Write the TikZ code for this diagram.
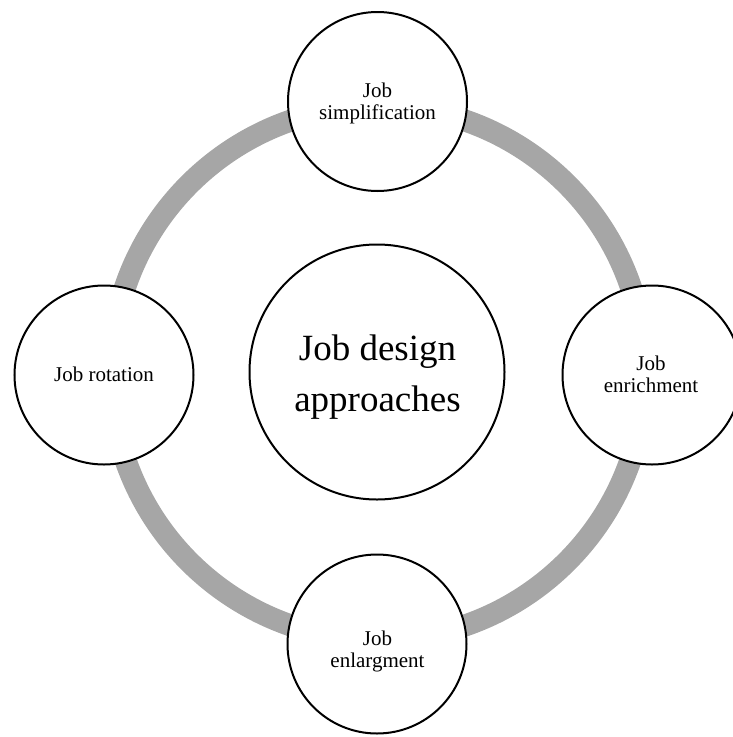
\documentclass[tikz,border=0pt]{standalone}
\usepackage{fontspec}
\setmainfont{Liberation Serif}
\definecolor{ringgray}{HTML}{A6A6A6}
\begin{document}
\begin{tikzpicture}[x=1pt,y=-1pt,
  bubble/.style={circle,draw=black,line width=2pt,fill=white,inner sep=0pt,minimum size=179pt},
  hub/.style={circle,draw=black,line width=2pt,fill=white,inner sep=0pt,minimum size=255pt},
  lbl/.style={anchor=base,inner sep=0pt,font=\fontsize{21}{25}\selectfont},
  biglbl/.style={anchor=base,inner sep=0pt,font=\fontsize{37}{44}\selectfont},
  ring/.style={draw=ringgray,line width=22pt}]
\useasboundingbox (0,0) rectangle (733,737);
\clip (0,0) rectangle (733,737);
\coordinate (o) at (378,373);
\draw[ring] (o) circle[radius=267];
\node[hub] (hub) at (377,372) {};
\node[bubble] (top) at (377.5,101.5) {};
\node[bubble] (right) at (652,375) {};
\node[bubble] (bottom) at (377,644) {};
\node[bubble] (left) at (104,375) {};
\node[biglbl] (h1) at (377.5,360) {Job design};
\node[biglbl] (h2) at (377.5,411) {approaches};
\node[lbl] (t1) at (377.5,97) {Job};
\node[lbl] (t2) at (377.5,119) {simplification};
\node[lbl] (r1) at (651,370.5) {Job};
\node[lbl] (r2) at (651,392.5) {enrichment};
\node[lbl] (b1) at (377.5,645) {Job};
\node[lbl] (b2) at (377.5,667) {enlargment};
\node[lbl] (l1) at (104,381.5) {Job rotation};
\end{tikzpicture}
\end{document}
